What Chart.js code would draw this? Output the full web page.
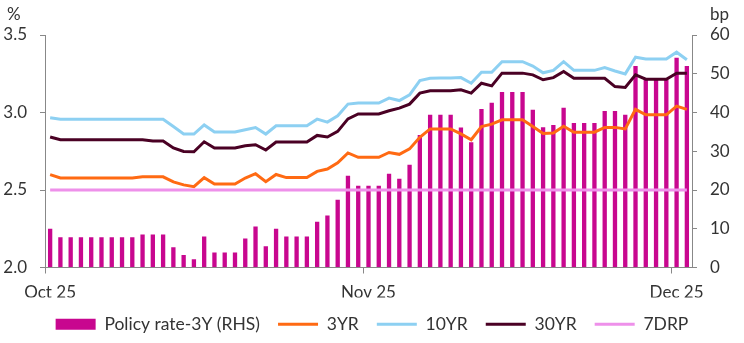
<!DOCTYPE html>
<html>
<head>
<meta charset="utf-8">
<script src="https://cdn.jsdelivr.net/npm/chart.js@4.4.1/dist/chart.umd.min.js"></script>
<style>
  html, body { margin: 0; padding: 0; background: #fff; }
  #wrap { width: 744px; height: 343px; }
</style>
</head>
<body>
<div id="wrap"><canvas id="ratesChart"></canvas></div>
<script>
// daily observations, Oct 1 - Dec 2 2025
const dates = [
  '2025-10-01','2025-10-02','2025-10-03','2025-10-04','2025-10-05','2025-10-06','2025-10-07','2025-10-08',
  '2025-10-09','2025-10-10','2025-10-11','2025-10-12','2025-10-13','2025-10-14','2025-10-15','2025-10-16',
  '2025-10-17','2025-10-18','2025-10-19','2025-10-20','2025-10-21','2025-10-22','2025-10-23','2025-10-24',
  '2025-10-25','2025-10-26','2025-10-27','2025-10-28','2025-10-29','2025-10-30','2025-10-31',
  '2025-11-01','2025-11-02','2025-11-03','2025-11-04','2025-11-05','2025-11-06','2025-11-07','2025-11-08',
  '2025-11-09','2025-11-10','2025-11-11','2025-11-12','2025-11-13','2025-11-14','2025-11-15','2025-11-16',
  '2025-11-17','2025-11-18','2025-11-19','2025-11-20','2025-11-21','2025-11-22','2025-11-23','2025-11-24',
  '2025-11-25','2025-11-26','2025-11-27','2025-11-28','2025-11-29','2025-11-30',
  '2025-12-01','2025-12-02'
];
const tickDates = ['2025-10-01', '2025-11-01', '2025-12-01'];
const tickLabels = ['Oct 25', 'Nov 25', 'Dec 25'];

// bp, right axis
const policySpread = [
  10.0, 7.8, 7.8, 7.8, 7.8, 7.8, 7.8, 7.8, 7.8, 8.5, 8.5, 8.5, 5.2, 3.2, 2.1, 8.0,
  3.9, 3.9, 3.9, 7.5, 10.6, 5.5, 10.0, 8.0, 8.0, 8.0, 11.8, 13.4, 17.5, 23.7, 21.1,
  21.1, 21.1, 24.2, 22.9, 26.5, 34.2, 39.4, 39.4, 39.4, 36.1, 32.3, 40.9, 42.5, 45.3, 45.3,
  45.3, 40.7, 36.2, 36.8, 41.2, 37.3, 37.3, 37.3, 40.4, 40.4, 39.4, 52.0, 48.5, 48.5, 48.5,
  54.1, 52.0
];
// %, left axis
const yield3y = [
  2.599, 2.578, 2.578, 2.578, 2.578, 2.578, 2.578, 2.578, 2.578, 2.585, 2.585, 2.585, 2.552, 2.533, 2.521, 2.580,
  2.539, 2.539, 2.539, 2.577, 2.605, 2.554, 2.600, 2.580, 2.580, 2.580, 2.620, 2.635, 2.675, 2.739, 2.711,
  2.711, 2.711, 2.742, 2.730, 2.765, 2.840, 2.894, 2.894, 2.894, 2.862, 2.824, 2.909, 2.925, 2.953, 2.953,
  2.953, 2.910, 2.864, 2.868, 2.911, 2.873, 2.873, 2.873, 2.904, 2.904, 2.894, 3.020, 2.985, 2.985, 2.985,
  3.041, 3.020
];
const yield10y = [
  2.966, 2.957, 2.957, 2.957, 2.957, 2.957, 2.957, 2.957, 2.957, 2.957, 2.957, 2.957, 2.910, 2.861, 2.861, 2.920,
  2.874, 2.874, 2.874, 2.889, 2.903, 2.861, 2.914, 2.914, 2.914, 2.914, 2.957, 2.938, 2.979, 3.054, 3.061,
  3.061, 3.061, 3.093, 3.077, 3.114, 3.206, 3.221, 3.223, 3.223, 3.225, 3.189, 3.260, 3.260, 3.328, 3.328,
  3.328, 3.300, 3.256, 3.272, 3.328, 3.272, 3.272, 3.272, 3.290, 3.268, 3.249, 3.357, 3.345, 3.345, 3.345,
  3.389, 3.340
];
const yield30y = [
  2.842, 2.824, 2.824, 2.824, 2.824, 2.824, 2.824, 2.824, 2.824, 2.824, 2.816, 2.816, 2.771, 2.749, 2.747, 2.811,
  2.771, 2.771, 2.771, 2.786, 2.792, 2.758, 2.809, 2.809, 2.809, 2.809, 2.852, 2.842, 2.878, 2.959, 2.991,
  2.991, 2.991, 3.011, 3.028, 3.054, 3.125, 3.140, 3.140, 3.140, 3.146, 3.125, 3.189, 3.172, 3.254, 3.254,
  3.254, 3.243, 3.211, 3.225, 3.264, 3.221, 3.221, 3.221, 3.221, 3.167, 3.161, 3.243, 3.215, 3.215, 3.215,
  3.254, 3.254
];
const repo7d = [
  2.5, 2.5, 2.5, 2.5, 2.5, 2.5, 2.5, 2.5, 2.5, 2.5, 2.5, 2.5, 2.5, 2.5, 2.5, 2.5,
  2.5, 2.5, 2.5, 2.5, 2.5, 2.5, 2.5, 2.5, 2.5, 2.5, 2.5, 2.5, 2.5, 2.5, 2.5,
  2.5, 2.5, 2.5, 2.5, 2.5, 2.5, 2.5, 2.5, 2.5, 2.5, 2.5, 2.5, 2.5, 2.5, 2.5,
  2.5, 2.5, 2.5, 2.5, 2.5, 2.5, 2.5, 2.5, 2.5, 2.5, 2.5, 2.5, 2.5, 2.5, 2.5,
  2.5, 2.5
];

const FONT = 'Lato, "Noto Sans", sans-serif';
const TEXT = '#333';
const AXIS = '#888';

Chart.defaults.font.family = FONT;
Chart.defaults.color = TEXT;

const unitLabels = {
  id: 'unitLabels',
  afterDraw(chart) {
    const c = chart.ctx;
    c.save();
    c.font = '17px ' + FONT;
    c.fillStyle = TEXT;
    c.textBaseline = 'middle';
    c.textAlign = 'left';
    c.fillText('%', 7, 15);
    c.fillText('bp', chart.scales.y1.left + 18, 15);
    c.restore();
  }
};

const line = (label, values, color, order) => ({
  type: 'line', label, data: values, yAxisID: 'y',
  borderColor: color, backgroundColor: color, borderWidth: 3,
  pointRadius: 0, tension: 0, order,
  pointStyle: 'line'
});

new Chart(document.getElementById('ratesChart'), {
  type: 'bar',
  data: {
    labels: dates,
    datasets: [
      { type: 'bar', label: 'Policy rate-3Y (RHS)', data: policySpread, yAxisID: 'y1',
        backgroundColor: '#C8078F', borderWidth: 0, barPercentage: 0.42, categoryPercentage: 1,
        order: 5, pointStyle: 'rect' },
      line('3YR', yield3y, '#FF6A13', 1),
      line('10YR', yield10y, '#8DD0F2', 2),
      line('30YR', yield30y, '#4A0124', 3),
      line('7DRP', repo7d, '#EE90EA', 0)
    ]
  },
  options: {
    responsive: true,
    maintainAspectRatio: false,
    animation: false,
    layout: { padding: { top: 35, left: 0, right: 0, bottom: 0 } },
    plugins: {
      tooltip: { enabled: false },
      legend: {
        position: 'bottom',
        labels: {
          usePointStyle: true, pointStyleWidth: 40, boxWidth: 40, boxHeight: 11,
          padding: 18, color: TEXT, font: { size: 17.5 },
          sort: (a, b) => a.datasetIndex - b.datasetIndex
        }
      }
    },
    scales: {
      x: {
        offset: true,
        grid: {
          offset: true, drawOnChartArea: false, tickLength: 6,
          color: ctx => (ctx.index === 0 || ctx.index === 31 || ctx.index === 61) ? AXIS : 'rgba(0,0,0,0)'
        },
        border: { color: AXIS },
        ticks: {
          autoSkip: false, maxRotation: 0, padding: 9, color: TEXT, font: { size: 17 },
          callback: function (v, i) {
            const k = tickDates.indexOf(dates[i]);
            return k >= 0 ? tickLabels[k] : '';
          }
        },
        afterFit: s => { s.height = 30; }
      },
      y: {
        position: 'left', min: 2, max: 3.5,
        grid: { drawOnChartArea: false, tickLength: 5, color: AXIS },
        border: { color: AXIS },
        ticks: { stepSize: 0.5, padding: 13, color: TEXT, font: { size: 17 },
          callback: v => v.toFixed(1) },
        afterFit: s => { s.width = 45; }
      },
      y1: {
        position: 'right', min: 0, max: 60,
        grid: { drawOnChartArea: false, tickLength: 5, color: AXIS },
        border: { color: AXIS },
        ticks: { stepSize: 10, padding: 13, color: TEXT, font: { size: 17 } },
        afterFit: s => { s.width = 52; }
      }
    }
  },
  plugins: [unitLabels]
});
</script>
</body>
</html>
